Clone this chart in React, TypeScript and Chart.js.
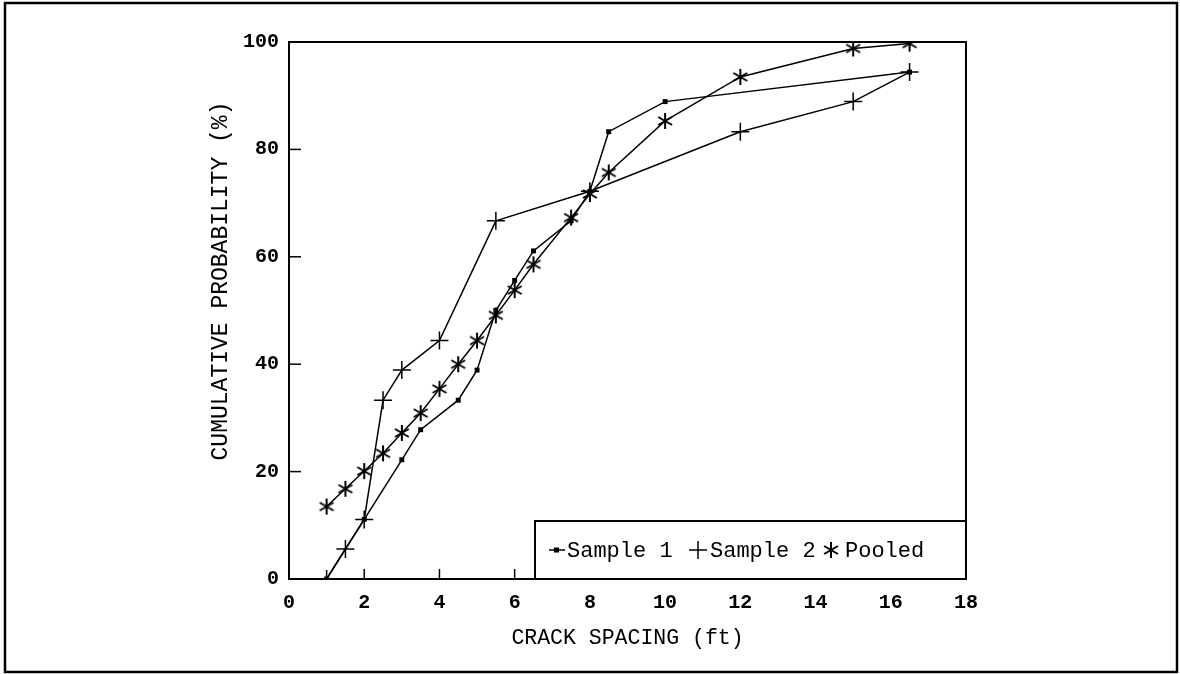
import React, { useEffect, useRef } from "react";
import { Chart, registerables } from "chart.js";
Chart.register(...registerables);

const sample1X = [1, 2, 3, 3.5, 4.5, 5, 5.5, 6, 6.5, 7.5, 8, 8.5, 10, 16.5];
const sample1Y = [0, 11.1, 22.2, 27.8, 33.3, 38.9, 50, 55.6, 61.1, 66.7, 72.2, 83.3, 88.9, 94.4];
const sample2X = [1, 1.5, 2, 2.5, 3, 4, 5.5, 8, 12, 15, 16.5];
const sample2Y = [0, 5.6, 11.1, 33.3, 38.9, 44.4, 66.7, 72.2, 83.3, 88.9, 94.4];
const pooledX = [1, 1.5, 2, 2.5, 3, 3.5, 4, 4.5, 5, 5.5, 6, 6.5, 7.5, 8, 8.5, 10, 12, 15, 16.5];
const pooledY = [13.5, 16.8, 20.1, 23.4, 27.2, 30.9, 35.4, 40.0, 44.4, 49.1, 53.8, 58.6, 67.3, 71.7, 75.7, 85.3, 93.5, 98.8, 99.7];
const xTicks = [0, 2, 4, 6, 8, 10, 12, 14, 16, 18];
const yTicks = [0, 20, 40, 60, 80, 100];
const seriesLabels = ["Sample 1", "Sample 2", "Pooled"];
const xTitle = "CRACK SPACING (ft)";
const yTitle = "CUMULATIVE PROBABILITY (%)";

const FONT = "'Liberation Mono', 'DejaVu Sans Mono', monospace";

function makeAsterisk(r: number, lw: number): HTMLCanvasElement {
  const c = document.createElement("canvas");
  const s = Math.ceil(r * 2 + lw * 2);
  c.width = s;
  c.height = s;
  const g = c.getContext("2d")!;
  g.strokeStyle = "#000";
  g.lineWidth = lw;
  g.lineCap = "butt";
  const cx = s / 2, cy = s / 2;
  [90, 30, 150].forEach((deg) => {
    const a = (deg * Math.PI) / 180;
    g.beginPath();
    g.moveTo(cx - r * Math.cos(a), cy - r * Math.sin(a));
    g.lineTo(cx + r * Math.cos(a), cy + r * Math.sin(a));
    g.stroke();
  });
  return c;
}

function zip(xs: number[], ys: number[]) {
  return xs.map((x, i) => ({ x, y: ys[i] }));
}

export default function App() {
  const ref = useRef<HTMLCanvasElement | null>(null);
  useEffect(() => {
    document.body.style.margin = "0";
    const canvas = ref.current!;
    const star = makeAsterisk(8, 2);

    const decor = {
      id: "decor",
      afterDraw(chart: any) {
        const ctx = chart.ctx as CanvasRenderingContext2D;
        const { left, right, top, bottom } = chart.chartArea;
        const xs = chart.scales.x;
        const ys = chart.scales.y;
        ctx.save();
        ctx.strokeStyle = "#000";
        ctx.fillStyle = "#000";
        // outer frame
        ctx.lineWidth = 2.5;
        ctx.strokeRect(5, 3, 1172, 669);
        // plot box
        ctx.lineWidth = 2;
        ctx.strokeRect(left, top, right - left, bottom - top);
        // inward ticks
        ctx.lineWidth = 1.5;
        yTicks.forEach((v) => {
          if (v === 0 || v === 100) return;
          const py = ys.getPixelForValue(v);
          ctx.beginPath();
          ctx.moveTo(left, py);
          ctx.lineTo(left + 12, py);
          ctx.stroke();
        });
        xTicks.forEach((v) => {
          if (v === 0 || v === 18) return;
          const px = xs.getPixelForValue(v);
          ctx.beginPath();
          ctx.moveTo(px, bottom);
          ctx.lineTo(px, bottom - 10);
          ctx.stroke();
        });
        // y title
        ctx.save();
        ctx.translate(221, 281);
        ctx.rotate(-Math.PI / 2);
        ctx.font = `23px ${FONT}`;
        ctx.textAlign = "center";
        ctx.textBaseline = "middle";
        ctx.fillText(yTitle, 0, 0);
        ctx.restore();
        // legend
        const lx = 535, ly = 521;
        ctx.fillStyle = "#fff";
        ctx.fillRect(lx, ly, right - lx, bottom - ly);
        ctx.lineWidth = 2;
        ctx.strokeRect(lx, ly, right - lx, bottom - ly);
        const my = 550;
        ctx.font = `22px ${FONT}`;
        ctx.fillStyle = "#000";
        ctx.textBaseline = "middle";
        ctx.textAlign = "left";
        ctx.lineWidth = 1.5;
        ctx.beginPath();
        ctx.moveTo(549, my);
        ctx.lineTo(565, my);
        ctx.stroke();
        ctx.fillRect(554, my - 2.5, 5, 5);
        ctx.fillText(seriesLabels[0], 567, my + 1);
        ctx.beginPath();
        ctx.moveTo(689, my);
        ctx.lineTo(707, my);
        ctx.moveTo(698, my - 9);
        ctx.lineTo(698, my + 9);
        ctx.stroke();
        ctx.fillText(seriesLabels[1], 710, my + 1);
        ctx.drawImage(star, 831 - star.width / 2, my - star.height / 2);
        ctx.fillText(seriesLabels[2], 845, my + 1);
        ctx.restore();
      },
    };

    const chart = new Chart(canvas, {
      type: "scatter",
      data: {
        datasets: [
          {
            label: seriesLabels[0],
            data: zip(sample1X, sample1Y),
            showLine: true,
            borderColor: "#000",
            backgroundColor: "#000",
            borderWidth: 1.5,
            pointStyle: "rect",
            pointRadius: 3.5,
            pointBorderWidth: 0,
          },
          {
            label: seriesLabels[1],
            data: zip(sample2X, sample2Y),
            showLine: true,
            borderColor: "#000",
            backgroundColor: "#000",
            borderWidth: 1.5,
            pointStyle: "cross",
            pointRadius: 9,
            pointBorderWidth: 1.5,
          },
          {
            label: seriesLabels[2],
            data: zip(pooledX, pooledY),
            showLine: true,
            borderColor: "#000",
            backgroundColor: "#000",
            borderWidth: 1.5,
            pointStyle: star as any,
            pointRadius: 8,
          },
        ],
      },
      options: {
        responsive: false,
        animation: false,
        events: [],
        layout: { padding: { left: 0, top: 42, right: 214, bottom: 0 } },
        plugins: {
          legend: { display: false },
          tooltip: { enabled: false },
        },
        scales: {
          x: {
            type: "linear",
            min: 0,
            max: 18,
            afterFit: (s: any) => {
              s.height = 95;
            },
            afterBuildTicks: (s: any) => {
              s.ticks = xTicks.map((v) => ({ value: v }));
            },
            grid: { display: false, drawTicks: false },
            border: { display: false },
            ticks: {
              color: "#000",
              padding: 12,
              font: { family: FONT, size: 20, weight: "bold" },
              maxRotation: 0,
            },
            title: {
              display: true,
              text: xTitle,
              color: "#000",
              font: { family: FONT, size: 21.5 },
              padding: { top: 0, bottom: 23 },
            },
          },
          y: {
            type: "linear",
            min: 0,
            max: 100,
            afterFit: (s: any) => {
              s.width = 289;
            },
            afterBuildTicks: (s: any) => {
              s.ticks = yTicks.map((v) => ({ value: v }));
            },
            grid: { display: false, drawTicks: false },
            border: { display: false },
            ticks: {
              color: "#000",
              padding: 10,
              font: { family: FONT, size: 20, weight: "bold" },
            },
            title: { display: false, text: yTitle },
          },
        },
      },
      plugins: [decor],
    });
    return () => chart.destroy();
  }, []);

  return (
    <div style={{ position: "absolute", left: 0, top: 0, width: 1180, height: 674, background: "#fff" }}>
      <canvas ref={ref} width={1180} height={674} />
    </div>
  );
}
